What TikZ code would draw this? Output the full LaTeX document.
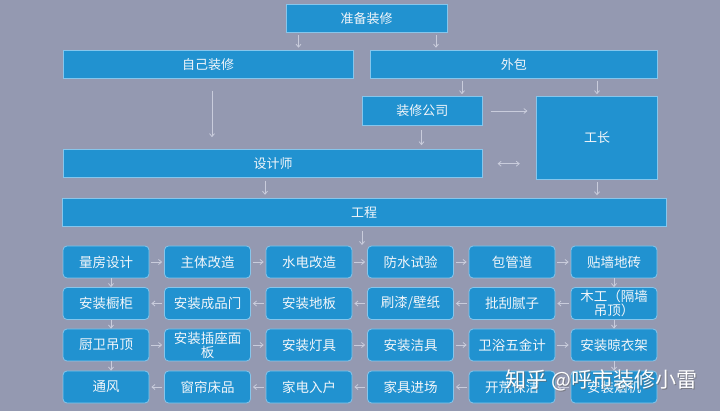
\documentclass[tikz,border=0pt]{standalone}
\usepackage{fontspec}
\setmainfont{Noto Sans CJK SC}
\usetikzlibrary{arrows.meta}
\definecolor{bg}{HTML}{9499B1}
\definecolor{boxfill}{HTML}{2192D0}
\definecolor{boxline}{HTML}{86C6EC}
\definecolor{arrc}{HTML}{C9CCDC}
\definecolor{txt}{HTML}{F2F6FA}
\tikzset{
  bigbox/.style={draw=boxline, line width=1pt, fill=boxfill, text=txt, inner sep=0pt, font=\fontsize{13}{15}\selectfont},
  cell/.style={draw=boxline, line width=0.8pt, fill=boxfill, text=txt, rounded corners=4pt, minimum width=86pt, minimum height=32pt, inner sep=0pt, align=center, font=\fontsize{13.5}{14}\selectfont},
  arr/.style={draw=arrc, line width=0.8pt, -{Straight Barb[length=3pt,width=5pt]}},
  darr/.style={draw=arrc, line width=0.8pt, {Straight Barb[length=3pt,width=5pt]}-{Straight Barb[length=3pt,width=5pt]}}
}
\begin{document}
\begin{tikzpicture}[x=1pt,y=-1pt]
\fill[bg] (0,0) rectangle (720,411);
\useasboundingbox (0,0) rectangle (720,411);
% top section
\node[bigbox, minimum width=161pt, minimum height=28pt] (prep) at (366.5,18.3) {准备装修};
\node[bigbox, minimum width=290pt, minimum height=28pt] (self) at (208.2,64.2) {自己装修};
\node[bigbox, minimum width=287.6pt, minimum height=28pt] (out) at (513.8,64.2) {外包};
\node[bigbox, minimum width=120.6pt, minimum height=28.6pt] (comp) at (422.3,111) {装修公司};
\node[bigbox, minimum width=120.2pt, minimum height=82.6pt] (boss) at (597,138) {工长};
\node[bigbox, minimum width=419.2pt, minimum height=28pt] (des) at (273,163.7) {设计师};
\node[bigbox, minimum width=603.6pt, minimum height=28pt] (proj) at (364.2,212.3) {工程};
\coordinate (projend) at (362,245);
% top arrows
\draw[arr, shorten <=2pt, shorten >=2pt] (298.5,0 |- prep.south) -- (298.5,0 |- self.north);
\draw[arr, shorten <=2pt, shorten >=2pt] (436,0 |- prep.south) -- (436,0 |- out.north);
\draw[arr, shorten <=2pt, shorten >=2pt] (462,0 |- out.south) -- (462,0 |- comp.north);
\draw[arr, shorten <=2pt, shorten >=2pt] (597,0 |- out.south) -- (597,0 |- boss.north);
\draw[arr, shorten <=12pt, shorten >=12pt] (212,0 |- self.south) -- (212,0 |- des.north);
\draw[arr, shorten <=4pt, shorten >=4pt] (421.5,0 |- comp.south) -- (421.5,0 |- des.north);
\draw[arr, shorten <=7.5pt, shorten >=9pt] (comp.east) -- (comp.east -| boss.west);
\draw[darr, shorten <=15pt, shorten >=17pt] (482.6,164 |- des.east) -- (536.8,164 |- des.east);
\draw[arr, shorten <=2.5pt, shorten >=3pt] (265,0 |- des.south) -- (265,0 |- proj.north);
\draw[arr, shorten <=2.5pt, shorten >=2.5pt] (597,0 |- boss.south) -- (597,0 |- proj.north);
\draw[arr, shorten <=4pt] (projend |- proj.south) -- (projend);
% grid
\node[cell] (a1) at (106,262) {量房设计};
\node[cell] (a2) at (207.5,262) {主体改造};
\node[cell] (a3) at (309,262) {水电改造};
\node[cell] (a4) at (410.5,262) {防水试验};
\node[cell] (a5) at (512,262) {包管道};
\node[cell] (a6) at (614,262) {贴墙地砖};
\node[cell] (b1) at (106,303.5) {安装橱柜};
\node[cell] (b2) at (207.5,303.5) {安装成品门};
\node[cell] (b3) at (309,303.5) {安装地板};
\node[cell] (b4) at (410.5,303.5) {刷漆/壁纸};
\node[cell] (b5) at (512,303.5) {批刮腻子};
\node[cell] (b6) at (614,303.5) {木工（隔墙\\吊顶）};
\node[cell] (c1) at (106,345) {厨卫吊顶};
\node[cell] (c2) at (207.5,345) {安装插座面\\板};
\node[cell] (c3) at (309,345) {安装灯具};
\node[cell] (c4) at (410.5,345) {安装洁具};
\node[cell] (c5) at (512,345) {卫浴五金计};
\node[cell] (c6) at (614,345) {安装晾衣架};
\node[cell] (d1) at (106,387) {通风};
\node[cell] (d2) at (207.5,387) {窗帘床品};
\node[cell] (d3) at (309,387) {家电入户};
\node[cell] (d4) at (410.5,387) {家具进场};
\node[cell] (d5) at (512,387) {开荒保洁};
\node[cell] (d6) at (614,387) {安装烟机};
% row arrows
\foreach \l/\r in {a1/a2,a2/a3,a3/a4,a4/a5,a5/a6,c1/c2,c2/c3,c3/c4,c4/c5,c5/c6}
  \draw[arr, shorten <=2pt, shorten >=2pt] (\l.east) -- (\r.west);
\foreach \l/\r in {b1/b2,b2/b3,b3/b4,b4/b5,b5/b6,d1/d2,d2/d3,d3/d4,d4/d5,d5/d6}
  \draw[arr, shorten <=2pt, shorten >=2pt] (\r.west) -- (\l.east);
\foreach \u/\d in {a1/b1,b1/c1,c1/d1}
  \draw[arr] ([xshift=5pt]\u.south) -- ([xshift=5pt]\d.north);
\foreach \u/\d in {a6/b6,b6/c6,c6/d6}
  \draw[arr] (\u.south) -- (\d.north);
% watermark
\node[anchor=west, text=black!60, opacity=0.6, font=\fontsize{21}{22}\selectfont, inner sep=0pt] (wms) at (506,381) {知乎 @呼市装修小雷};
\node[anchor=west, text=white, font=\fontsize{21}{22}\selectfont, inner sep=0pt] (wm) at (505,380) {知乎 @呼市装修小雷};
\end{tikzpicture}
\end{document}
